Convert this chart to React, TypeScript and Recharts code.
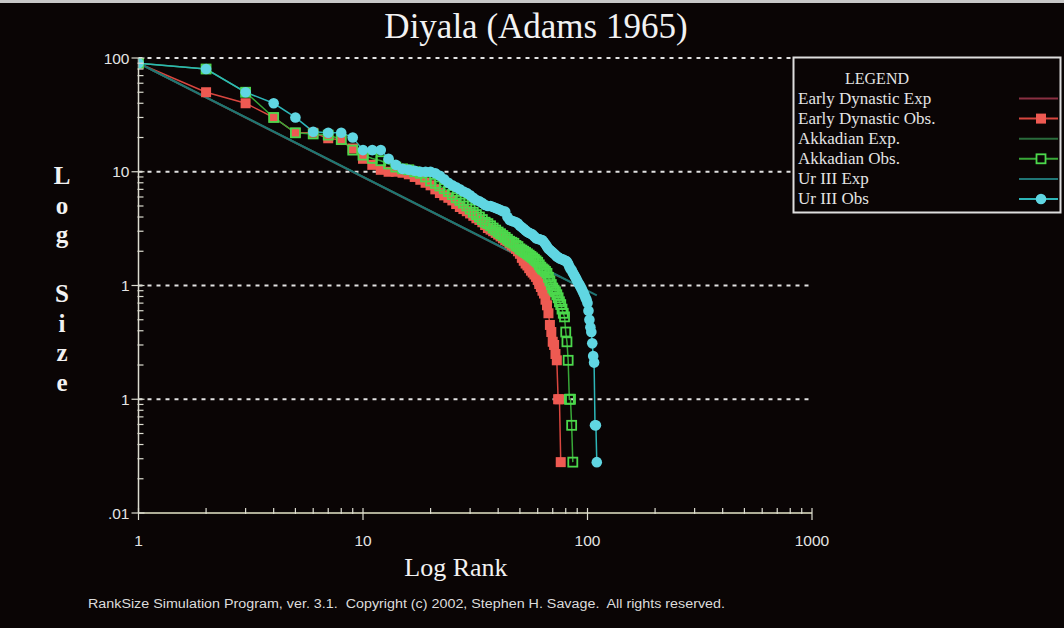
import React from 'react';
import { ComposedChart, Line, XAxis, YAxis, ReferenceLine } from 'recharts';

// ---------- data ----------
const edObsSizes = [90, 50, 40, 30, 22, 22, 19.7, 19, 16, 13, 11.5, 10.4, 10, 10, 9.8, 9.5, 9, 8.5, 8, 7.6, 7, 6.5, 6.2, 5.9, 5.6, 5.2, 4.9, 4.7, 4.5, 4.3, 4.1, 3.9, 3.77, 3.6, 3.4, 3.2, 3.1, 3.0, 2.9, 2.8, 2.7, 2.6, 2.5, 2.45, 2.35, 2.25, 2.2, 2.1, 2.0, 1.9, 1.75, 1.65, 1.56, 1.5, 1.42, 1.35, 1.3, 1.25, 1.19, 1.12, 1.03, 0.97, 0.9, 0.85, 0.75, 0.67, 0.57, 0.45, 0.39, 0.32, 0.3, 0.25, 0.22, 0.1, 0.1, 0.028];
const akkObsSizes = [90, 80, 50, 30, 22, 21.5, 21, 19.2, 15.5, 14, 13.1, 12.5, 11.7, 11, 10.6, 10.4, 10, 9.7, 9.0, 8.3, 7.9, 7.5, 7.1, 6.7, 6.3, 5.9, 5.6, 5.3, 5.0, 4.7, 4.4, 4.2, 4.0, 3.8, 3.6, 3.5, 3.35, 3.2, 3.07, 2.95, 2.85, 2.75, 2.65, 2.55, 2.45, 2.4, 2.35, 2.25, 2.2, 2.1, 2.05, 2.0, 1.95, 1.9, 1.85, 1.8, 1.75, 1.7, 1.65, 1.6, 1.52, 1.45, 1.4, 1.37, 1.33, 1.28, 1.18, 1.1, 1.02, 0.95, 0.91, 0.88, 0.83, 0.78, 0.72, 0.68, 0.62, 0.57, 0.53, 0.39, 0.32, 0.22, 0.1, 0.1, 0.059, 0.028];
const urObsSizes = [90, 80, 50, 40, 30, 22.5, 22, 22, 20, 15.5, 15.5, 15.5, 13, 11.5, 10.6, 10.4, 10.2, 10, 10, 10, 9.7, 9.2, 8.6, 8.0, 7.6, 7.3, 7.0, 6.7, 6.5, 6.2, 5.9, 5.65, 5.5, 5.3, 5.1, 5.0, 5.0, 4.9, 4.8, 4.7, 4.6, 4.5, 4.46, 4.0, 3.77, 3.7, 3.65, 3.6, 3.5, 3.35, 3.25, 3.15, 3.05, 2.95, 2.9, 2.85, 2.8, 2.7, 2.6, 2.58, 2.55, 2.52, 2.5, 2.4, 2.3, 2.2, 2.1, 2.05, 2.0, 1.95, 1.9, 1.85, 1.8, 1.77, 1.74, 1.72, 1.7, 1.68, 1.66, 1.65, 1.62, 1.55, 1.47, 1.4, 1.37, 1.3, 1.25, 1.2, 1.15, 1.1, 1.05, 1.02, 0.98, 0.94, 0.9, 0.86, 0.82, 0.78, 0.75, 0.7, 0.6, 0.5, 0.43, 0.39, 0.31, 0.24, 0.21, 0.059, 0.059, 0.028];

// expected (rank-size rule) lines: start and end points
const edExpRanks = [1, 76];
const edExpSizes = [90, 1.18];
const akkExpRanks = [1, 86];
const akkExpSizes = [90, 1.05];
const urExpRanks = [1, 110];
const urExpSizes = [90, 0.82];

const xTicks = [1, 2, 3, 4, 5, 6, 7, 8, 9, 10, 20, 30, 40, 50, 60, 70, 80, 90, 100, 200, 300, 400, 500, 600, 700, 800, 900, 1000];
const xMajor = [1, 10, 100, 1000];
const xTickLabels = ['1', '10', '100', '1000'];
const yTicks = [0.01, 0.02, 0.03, 0.04, 0.05, 0.06, 0.07, 0.08, 0.09, 0.1, 0.2, 0.3, 0.4, 0.5, 0.6, 0.7, 0.8, 0.9, 1, 2, 3, 4, 5, 6, 7, 8, 9, 10, 20, 30, 40, 50, 60, 70, 80, 90, 100];
const yMajor = [0.01, 0.1, 1, 10, 100];
const yTickLabels = ['.01', '1', '1', '10', '100'];
const gridValues = [0.1, 1, 10, 100];

const legendLabels = ['Early Dynastic Exp', 'Early Dynastic Obs.', 'Akkadian Exp.', 'Akkadian Obs.', 'Ur III Exp', 'Ur III Obs'];

const titleText = 'Diyala (Adams 1965)';
const xAxisTitle = 'Log Rank';
const yAxisTitleChars = ['L', 'o', 'g', '', 'S', 'i', 'z', 'e'];
const footerText = 'RankSize Simulation Program, ver. 3.1.  Copyright (c) 2002, Stephen H. Savage.  All rights reserved.';

// ---------- styling ----------
const BG = '#0a0505';
const TXT = '#e4e4e4';
const C = {
  edExp: '#8a3042',
  edLine: '#d8463f',
  edMark: '#ee5a52',
  akkExp: '#2a6b3c',
  akkLine: '#38a838',
  akkMark: '#4cd84c',
  urExp: '#207575',
  urLine: '#2db6b8',
  urMark: '#60d6e2',
};

const pts = (vals: number[]) => vals.map((v, i) => ({ r: i + 1, v }));
const pairs = (rs: number[], vs: number[]) => rs.map((r, i) => ({ r, v: vs[i] }));

const edObs = pts(edObsSizes);
const akkObs = pts(akkObsSizes);
const urObs = pts(urObsSizes);
const edExp = pairs(edExpRanks, edExpSizes);
const akkExp = pairs(akkExpRanks, akkExpSizes);
const urExp = pairs(urExpRanks, urExpSizes);

const AX = '#dcdcd0';

const XTick = (props: any) => {
  const { x, y, payload } = props;
  const idx = xMajor.indexOf(payload.value);
  if (idx >= 0) {
    return (
      <g>
        <line x1={x} x2={x} y1={y - 5} y2={y + 7} stroke={AX} strokeWidth={1.2} />
        <text x={x} y={y + 33} textAnchor="middle" fill={TXT} fontSize={15.5} fontFamily="'Liberation Sans', Arial, sans-serif">
          {xTickLabels[idx]}
        </text>
      </g>
    );
  }
  return <line x1={x} x2={x} y1={y - 5} y2={y + 1} stroke={AX} strokeWidth={1.2} />;
};

const YTick = (props: any) => {
  const { x, y, payload } = props;
  const idx = yMajor.indexOf(payload.value);
  if (idx >= 0) {
    return (
      <g>
        <line x1={x - 7} x2={x + 6} y1={y} y2={y} stroke={AX} strokeWidth={1.2} />
        <text x={x - 9} y={y + 5.5} textAnchor="end" fill={TXT} fontSize={15.5} fontFamily="'Liberation Sans', Arial, sans-serif">
          {yTickLabels[idx]}
        </text>
      </g>
    );
  }
  return <line x1={x - 1} x2={x + 5} y1={y} y2={y} stroke={AX} strokeWidth={1.2} />;
};

const redDot = (p: any) => (
  <rect key={`ed-${p.index}`} x={p.cx - 5} y={p.cy - 5} width={10} height={10} fill={C.edMark} />
);
const greenDot = (p: any) => (
  <rect key={`akk-${p.index}`} x={p.cx - 4.5} y={p.cy - 4.5} width={9} height={9} fill="none" stroke={C.akkMark} strokeWidth={1.8} />
);
const cyanDot = (p: any) => (
  <circle key={`ur-${p.index}`} cx={p.cx} cy={p.cy} r={5.3} fill={C.urMark} />
);

const legendLineColors = [C.edExp, C.edLine, C.akkExp, C.akkLine, C.urExp, C.urLine];

export default function App() {
  const legendBase = 103.5;
  const legendStep = 20.1;
  return (
    <div style={{ position: 'fixed', left: 0, top: 0, width: 1064, height: 628, background: BG, overflow: 'hidden' }}>
      <ComposedChart width={1064} height={628} margin={{ top: 58, right: 252, left: 78.5, bottom: 75 }}>
        <XAxis
          type="number"
          dataKey="r"
          scale="log"
          domain={[1, 1000]}
          ticks={xTicks}
          interval={0}
          tick={(p: any) => <XTick {...p} />}
          tickLine={false}
          tickSize={0}
          tickMargin={0}
          axisLine={{ stroke: '#e6e6c8', strokeWidth: 1.5 }}
          height={40}
          allowDataOverflow
        />
        <YAxis
          type="number"
          dataKey="v"
          scale="log"
          domain={[0.01, 100]}
          ticks={yTicks}
          interval={0}
          tick={(p: any) => <YTick {...p} />}
          tickLine={false}
          tickSize={0}
          tickMargin={0}
          axisLine={{ stroke: AX, strokeWidth: 1.5 }}
          width={60}
          allowDataOverflow
        />
        {gridValues.map((g) => (
          <ReferenceLine key={`g-${g}`} y={g} stroke="#e2e2e2" strokeWidth={2} strokeDasharray="4 5" />
        ))}
        <Line data={edExp} dataKey="v" stroke={C.edExp} strokeWidth={2} dot={false} activeDot={false} isAnimationActive={false} />
        <Line data={edObs} dataKey="v" stroke={C.edLine} strokeWidth={1.5} dot={redDot} activeDot={false} isAnimationActive={false} />
        <Line data={akkExp} dataKey="v" stroke={C.akkExp} strokeWidth={2} dot={false} activeDot={false} isAnimationActive={false} />
        <Line data={akkObs} dataKey="v" stroke={C.akkLine} strokeWidth={1.5} dot={greenDot} activeDot={false} isAnimationActive={false} />
        <Line data={urExp} dataKey="v" stroke={C.urExp} strokeWidth={2} dot={false} activeDot={false} isAnimationActive={false} />
        <Line data={urObs} dataKey="v" stroke={C.urLine} strokeWidth={1.5} dot={cyanDot} activeDot={false} isAnimationActive={false} />
      </ComposedChart>
      <svg width={1064} height={628} style={{ position: 'absolute', left: 0, top: 0, pointerEvents: 'none' }}>
        <rect x={0} y={0} width={1064} height={3} fill="#c8c8c8" />
        <text x={536} y={38} textAnchor="middle" fill="#f2f2f2" fontSize={35} fontFamily="'Liberation Serif', 'Times New Roman', serif">
          {titleText}
        </text>
        <text x={456} y={576} textAnchor="middle" fill="#f2f2f2" fontSize={26} fontFamily="'Liberation Serif', 'Times New Roman', serif">
          {xAxisTitle}
        </text>
        {yAxisTitleChars.map((ch, i) => (
          <text key={`yl-${i}`} x={62} y={184 + i * 29.5} textAnchor="middle" fill="#f2f2f2" fontSize={25} fontWeight="bold" fontFamily="'Liberation Serif', 'Times New Roman', serif">
            {ch}
          </text>
        ))}
        <text x={88} y={608} fill="#dcdcdc" fontSize={12} textLength={637} lengthAdjust="spacingAndGlyphs" fontFamily="'Liberation Sans', Arial, sans-serif" style={{ whiteSpace: 'pre' }}>
          {footerText}
        </text>
        {/* legend */}
        <rect x={793.5} y={57.5} width={267} height={155} fill={BG} stroke="#dedede" strokeWidth={2} />
        <text x={877} y={84} textAnchor="middle" fill={TXT} fontSize={16} fontFamily="'Liberation Serif', 'Times New Roman', serif">
          LEGEND
        </text>
        {legendLabels.map((lab, i) => {
          const by = legendBase + i * legendStep;
          const cy = by - 5;
          return (
            <g key={`lg-${i}`}>
              <text x={798} y={by} fill={TXT} fontSize={17} fontFamily="'Liberation Serif', 'Times New Roman', serif">
                {lab}
              </text>
              <line x1={1019} x2={1058} y1={cy} y2={cy} stroke={legendLineColors[i]} strokeWidth={2} />
              {i === 1 && <rect x={1036} y={cy - 5} width={10} height={10} fill={C.edMark} />}
              {i === 3 && <rect x={1036.5} y={cy - 4.5} width={9} height={9} fill={BG} stroke={C.akkMark} strokeWidth={1.8} />}
              {i === 5 && <circle cx={1041} cy={cy} r={5.3} fill={C.urMark} />}
            </g>
          );
        })}
      </svg>
    </div>
  );
}
